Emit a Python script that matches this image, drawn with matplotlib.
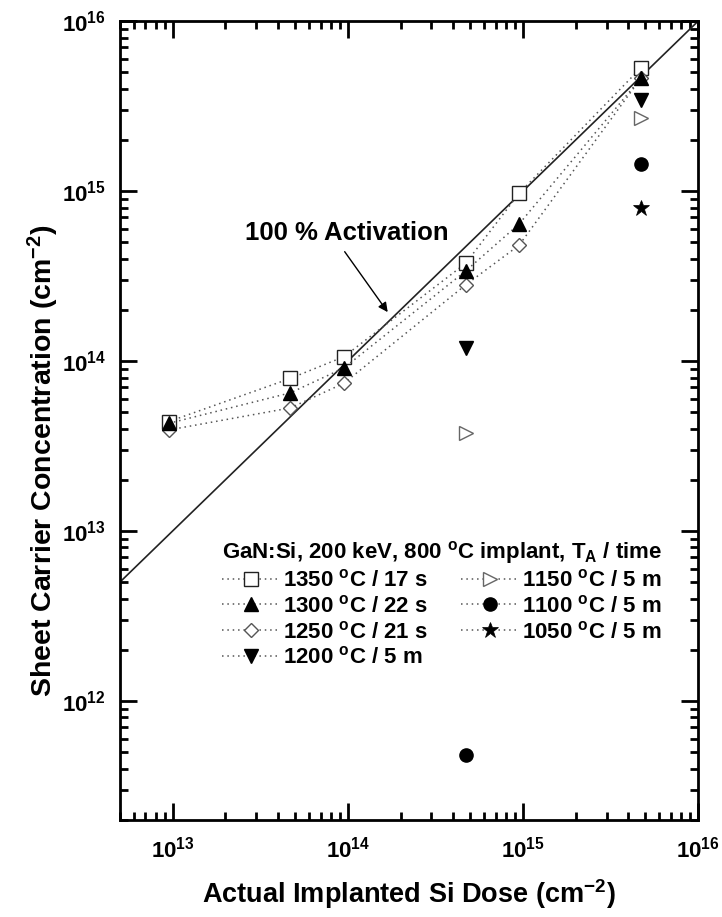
import matplotlib
matplotlib.use("Agg")
import matplotlib.pyplot as plt
from matplotlib.lines import Line2D
from matplotlib.ticker import LogLocator, NullFormatter

plt.rcParams['font.family'] = ['Liberation Sans', 'DejaVu Sans']
plt.rcParams['font.weight'] = 'bold'
plt.rcParams['axes.labelweight'] = 'bold'
plt.rcParams['mathtext.fontset'] = 'custom'
plt.rcParams['mathtext.rm'] = 'Liberation Sans:bold'
plt.rcParams['mathtext.bf'] = 'Liberation Sans:bold'
plt.rcParams['mathtext.it'] = 'Liberation Sans:bold'
plt.rcParams['mathtext.default'] = 'bf'

# implanted dose (cm^-2) and measured sheet carrier concentration (cm^-2)
dose_full = [9.5e12, 4.7e13, 9.5e13, 4.7e14, 9.5e14, 4.7e15]
n_1350 = [4.4e13, 7.9e13, 1.06e14, 3.75e14, 9.7e14, 5.3e15]
n_1300 = [4.3e13, 6.5e13, 9.1e13, 3.38e14, 6.4e14, 4.6e15]
n_1250 = [3.93e13, 5.3e13, 7.4e13, 2.8e14, 4.8e14, 4.6e15]

dose_pair = [4.7e14, 4.7e15]
n_1200 = [1.19e14, 3.43e15]
n_1150 = [3.77e13, 2.69e15]
n_1100 = [4.8e11, 1.44e15]
dose_1050 = [4.7e15]
n_1050 = [7.9e14]

labels = ['1350 $^{o}$C / 17 s', '1300 $^{o}$C / 22 s', '1250 $^{o}$C / 21 s',
          '1200 $^{o}$C / 5 m', '1150 $^{o}$C / 5 m', '1100 $^{o}$C / 5 m',
          '1050 $^{o}$C / 5 m']

# 100 % activation reference
full_act = [5e12, 1e16]

fig = plt.figure(figsize=(7.22, 9.17), dpi=100)
ax = fig.add_axes([0.166, 0.106, 0.801, 0.871])

ax.plot(full_act, full_act, color='#222222', lw=1.2, zorder=2)

dot = dict(ls=(0, (1, 2.5)), lw=1.1, color='#555555')
styles = [
    dict(marker='s', ms=9.5, mfc='white', mec='#222222', mew=1.0),
    dict(marker='^', ms=10, mfc='black', mec='black', mew=1.0),
    dict(marker='D', ms=7.5, mfc='white', mec='#555555', mew=1.0),
    dict(marker='v', ms=10, mfc='black', mec='black', mew=1.0),
    dict(marker='>', ms=10, mfc='white', mec='#666666', mew=1.0),
    dict(marker='o', ms=9.5, mfc='black', mec='black', mew=1.0),
    dict(marker='*', ms=12, mfc='black', mec='black', mew=0.5),
]

ax.plot(dose_full, n_1350, **dot, **styles[0], zorder=3)
ax.plot(dose_full, n_1250, **dot, **styles[2], zorder=3)
ax.plot(dose_full, n_1300, **dot, **styles[1], zorder=3)
ax.plot(dose_pair, n_1200, ls='none', **styles[3], zorder=3)
ax.plot(dose_pair, n_1150, ls='none', **styles[4], zorder=3)
ax.plot(dose_pair, n_1100, ls='none', **styles[5], zorder=3)
ax.plot(dose_1050, n_1050, ls='none', **styles[6], zorder=3)

ax.set_xscale('log')
ax.set_yscale('log')
ax.set_xlim(5e12, 1e16)
ax.set_ylim(2e11, 1e16)

for axis in (ax.xaxis, ax.yaxis):
    axis.set_major_locator(LogLocator(base=10, numticks=20))
    axis.set_minor_locator(LogLocator(base=10, subs=range(2, 10), numticks=20))
    axis.set_minor_formatter(NullFormatter())

ax.tick_params(which='both', direction='in', top=True, right=True, width=2)
ax.tick_params(which='major', length=12, labelsize=16)
ax.tick_params(axis='x', which='major', pad=12)
ax.tick_params(axis='y', which='major', pad=10)
ax.tick_params(which='minor', length=6)
for sp in ax.spines.values():
    sp.set_linewidth(2)

ax.set_xlabel('Actual Implanted Si Dose (cm$^{-2}$)', fontsize=19.5)
ax.xaxis.set_label_coords(0.5, -0.072)
ax.set_ylabel('Sheet Carrier Concentration (cm$^{-2}$)', fontsize=20.5)
ax.yaxis.set_label_coords(-0.102, 0.45)

ax.text(9.9e13, 5.7e14, '100 % Activation', fontsize=18.5, ha='center', va='center')
ax.annotate('', xy=(1.69e14, 1.94e14), xytext=(9.6e13, 4.4e14),
            arrowprops=dict(arrowstyle='-|>', color='black', lw=1.0,
                            mutation_scale=14, shrinkA=0, shrinkB=0))

handles = [Line2D([0], [0], **dot, **st) for st in styles]
leg = ax.legend(handles, labels, ncol=2, frameon=False,
                title='GaN:Si, 200 keV, 800 $^{o}$C implant, T$_{A}$ / time',
                title_fontsize=16, fontsize=16, loc='upper left',
                bbox_to_anchor=(0.176, 0.352), handlelength=2.6,
                handletextpad=0.15, columnspacing=1.5, labelspacing=0.17,
                alignment='left', borderaxespad=0, borderpad=0)

fig.savefig('out.png', dpi=100)
